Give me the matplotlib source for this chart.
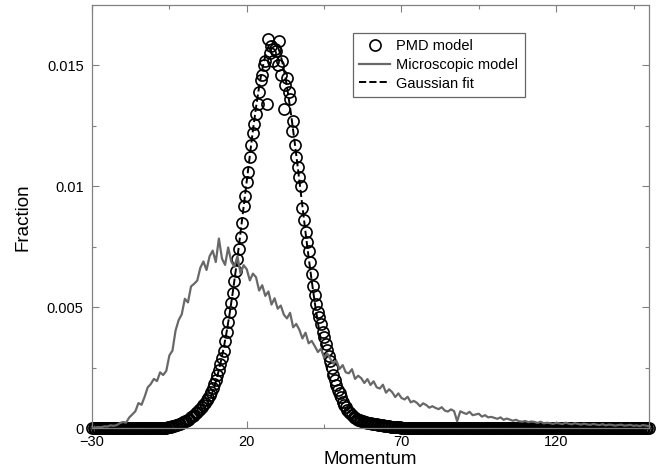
import numpy as np
import matplotlib
matplotlib.use('Agg')
import matplotlib.pyplot as plt
from matplotlib.legend_handler import HandlerLine2D

plt.rcParams['font.family'] = ['Liberation Sans', 'DejaVu Sans']

# microscopic model, one value per unit of momentum (-30 .. 150)
micro_momentum = np.arange(-30, 151)
micro_fraction = [
    0.00002, 0.00004, 0.00006, 0.00005, 0.00009, 0.00008, 0.00013, 0.00011, 0.00014, 0.00022,
    0.00027, 0.00024, 0.00045, 0.00058, 0.00071, 0.00105, 0.00098, 0.00131, 0.00170, 0.00184,
    0.00205, 0.00196, 0.00232, 0.00221, 0.00238, 0.00302, 0.00322, 0.00405, 0.00448, 0.00472,
    0.00536, 0.00521, 0.00587, 0.00598, 0.00611, 0.00664, 0.00690, 0.00655, 0.00712, 0.00735,
    0.00688, 0.00785, 0.00702, 0.00676, 0.00748, 0.00690, 0.00668, 0.00712, 0.00640, 0.00675,
    0.00658, 0.00612, 0.00640, 0.00625, 0.00570, 0.00592, 0.00548, 0.00566, 0.00512, 0.00538,
    0.00495, 0.00508, 0.00470, 0.00455, 0.00478, 0.00418, 0.00432, 0.00408, 0.00372, 0.00396,
    0.00352, 0.00362, 0.00340, 0.00316, 0.00330, 0.00292, 0.00310, 0.00288, 0.00268, 0.00279,
    0.00246, 0.00262, 0.00232, 0.00228, 0.00245, 0.00205, 0.00218, 0.00208, 0.00188, 0.00204,
    0.00180, 0.00195, 0.00170, 0.00165, 0.00181, 0.00148, 0.00162, 0.00150, 0.00130, 0.00145,
    0.00126, 0.00120, 0.00131, 0.00108, 0.00114, 0.00106, 0.00092, 0.00104, 0.00097, 0.00086,
    0.00092, 0.00085, 0.00080, 0.00088, 0.00074, 0.00070, 0.00079, 0.00072, 0.00030, 0.00071,
    0.00065, 0.00060, 0.00069, 0.00055, 0.00058, 0.00061, 0.00049, 0.00055, 0.00046, 0.00048,
    0.00044, 0.00040, 0.00046, 0.00036, 0.00041, 0.00037, 0.00032, 0.00036, 0.00030, 0.00028,
    0.00031, 0.00026, 0.00029, 0.00027, 0.00023, 0.00028, 0.00021, 0.00024, 0.00022, 0.00019,
    0.00023, 0.00021, 0.00018, 0.00024, 0.00020, 0.00017, 0.00022, 0.00019, 0.00016, 0.00020,
    0.00017, 0.00015, 0.00019, 0.00016, 0.00014, 0.00018, 0.00013, 0.00016, 0.00015, 0.00012,
    0.00014, 0.00016, 0.00012, 0.00013, 0.00015, 0.00011, 0.00013, 0.00010, 0.00014, 0.00012,
    0.00010,
]

# PMD model and its gaussian fit, half-unit bins (-30 .. 150)
pmd_momentum = np.arange(-30, 150.5, 0.5)
pmd_fraction = [0.0] * 48 + [
    0.00004, 0.00005, 0.00006, 0.00008, 0.00010,
    0.00012, 0.00014, 0.00016, 0.00018, 0.00020, 0.00023, 0.00026, 0.00029, 0.00033, 0.00037,
    0.00041, 0.00046, 0.00051, 0.00056, 0.00062, 0.00068, 0.00075, 0.00082, 0.00090, 0.00098,
    0.00107, 0.00116, 0.00127, 0.00140, 0.00152, 0.00167, 0.00182, 0.00200, 0.00220, 0.00240,
    0.00265, 0.00290, 0.00320, 0.00360, 0.00400, 0.00440, 0.00480, 0.00520, 0.00560, 0.00610,
    0.00650, 0.00700, 0.00740, 0.00790, 0.00850, 0.00920, 0.00960, 0.01020, 0.01060, 0.01120,
    0.01170, 0.01220, 0.01260, 0.01300, 0.01340, 0.01390, 0.01440, 0.01460, 0.01500, 0.01520,
    0.01340, 0.01610, 0.01550, 0.01580, 0.01520, 0.01570, 0.01560, 0.01500, 0.01600, 0.01460,
    0.01520, 0.01320, 0.01420, 0.01450, 0.01390, 0.01360, 0.01230, 0.01270, 0.01170, 0.01120,
    0.01080, 0.01040, 0.01000, 0.00910, 0.00860, 0.00810, 0.00770, 0.00735, 0.00690, 0.00640,
    0.00590, 0.00550, 0.00515, 0.00480, 0.00460, 0.00430, 0.00400, 0.00380, 0.00350, 0.00325,
    0.00300, 0.00280, 0.00250, 0.00220, 0.00200, 0.00180, 0.00160, 0.00145, 0.00130, 0.00110,
    0.00098, 0.00088, 0.00078, 0.00070, 0.00062, 0.00055, 0.00049, 0.00044, 0.00040, 0.00037,
    0.00034, 0.00031, 0.00029, 0.00027, 0.00025, 0.00023, 0.00022, 0.00021, 0.00020,
    0.00019, 0.00018, 0.00017, 0.00016, 0.00015, 0.00014, 0.00013, 0.00012, 0.00011, 0.00010,
    0.00009, 0.00008, 0.00008, 0.00007, 0.00006, 0.00006, 0.00005, 0.00005, 0.00004,
] + [0.0] * 160

fit_fraction = [0.0] * 53 + [
    0.00003, 0.00003, 0.00004, 0.00005, 0.00006, 0.00007, 0.00009, 0.00011, 0.00013, 0.00015,
    0.00018, 0.00021, 0.00025, 0.00029, 0.00034, 0.00039, 0.00046, 0.00053, 0.00061, 0.00070,
    0.00081, 0.00092, 0.00105, 0.00120, 0.00135, 0.00153, 0.00172, 0.00193, 0.00217, 0.00242,
    0.00269, 0.00298, 0.00329, 0.00363, 0.00399, 0.00437, 0.00477, 0.00519, 0.00564, 0.00610,
    0.00658, 0.00707, 0.00758, 0.00810, 0.00863, 0.00917, 0.00970, 0.01024, 0.01078, 0.01131,
    0.01182, 0.01233, 0.01281, 0.01327, 0.01371, 0.01412, 0.01450, 0.01483, 0.01514, 0.01539,
    0.01561, 0.01578, 0.01590, 0.01598, 0.01600, 0.01598, 0.01590, 0.01578, 0.01561, 0.01539,
    0.01514, 0.01483, 0.01450, 0.01412, 0.01371, 0.01327, 0.01281, 0.01233, 0.01182, 0.01131,
    0.01078, 0.01024, 0.00970, 0.00917, 0.00863, 0.00810, 0.00758, 0.00707, 0.00658, 0.00610,
    0.00564, 0.00519, 0.00477, 0.00437, 0.00399, 0.00363, 0.00329, 0.00298, 0.00269, 0.00242,
    0.00217, 0.00193, 0.00172, 0.00153, 0.00135, 0.00120, 0.00105, 0.00092, 0.00081, 0.00070,
    0.00061, 0.00053, 0.00046, 0.00039, 0.00034, 0.00029, 0.00025, 0.00021, 0.00018, 0.00015,
    0.00013, 0.00011, 0.00009, 0.00007, 0.00006, 0.00005, 0.00004, 0.00003, 0.00003,
] + [0.0] * 179

x_ticks = [-30, 20, 70, 120]
x_tick_labels = ['\u221230', '20', '70', '120']
y_ticks = [0, 0.005, 0.01, 0.015]
y_tick_labels = ['0', '0.005', '0.01', '0.015']
labels = ['PMD model', 'Microscopic model', 'Gaussian fit']


class MarkerRight(HandlerLine2D):
    # circle sits at the right end of the handle, as in the original legend
    def get_xdata(self, legend, xdescent, ydescent, width, height, fontsize):
        xdata, _ = super().get_xdata(legend, xdescent, ydescent, width, height, fontsize)
        return xdata, [-xdescent + width - 3]


fig = plt.figure(figsize=(6.62, 4.74), dpi=100)
ax = fig.add_axes([0.139, 0.096, 0.8414, 0.8935])

pmd, = ax.plot(pmd_momentum, pmd_fraction, ls='none', marker='o', ms=8,
               mfc='none', mec='black', mew=1.2, clip_on=False, zorder=2)
fit, = ax.plot(pmd_momentum, fit_fraction, color='black', lw=1.4, ls='--', zorder=2.5)
micro, = ax.plot(micro_momentum, micro_fraction, color='#686868', lw=1.6, zorder=3)

ax.set_xlim(-30, 150)
ax.set_ylim(0, 0.0175)
ax.set_xticks(x_ticks)
ax.set_xticklabels(x_tick_labels)
ax.set_xticks([-5, 45, 95, 145], minor=True)
ax.set_yticks(y_ticks)
ax.set_yticklabels(y_tick_labels)
ax.set_yticks([0.0025, 0.0075, 0.0125], minor=True)

for s in ax.spines.values():
    s.set_color('#808080')
    s.set_linewidth(0.9)
ax.tick_params(which='both', direction='in', top=True, right=True,
               color='#808080', width=0.8, labelsize=10.5, labelcolor='black')
ax.tick_params(which='major', length=5)
ax.tick_params(which='minor', length=3)
ax.tick_params(axis='y', pad=6)
ax.tick_params(axis='x', pad=5)

ax.set_xlabel('Momentum', fontsize=13.5)
ax.set_ylabel('Fraction', fontsize=13.5)
ax.xaxis.set_label_coords(0.5, -0.053)
ax.yaxis.set_label_coords(-0.108, 0.5)

leg = ax.legend([pmd, micro, fit], labels, loc='upper left',
                bbox_to_anchor=(0.468, 0.9346), fancybox=False, framealpha=1,
                edgecolor='#666666', fontsize=10.5, handlelength=2.1,
                handletextpad=0.45, labelspacing=0.32, borderpad=0.45,
                borderaxespad=0, handler_map={pmd: MarkerRight(numpoints=1)})
leg.get_frame().set_linewidth(0.9)

fig.savefig('out.png', dpi=100)
